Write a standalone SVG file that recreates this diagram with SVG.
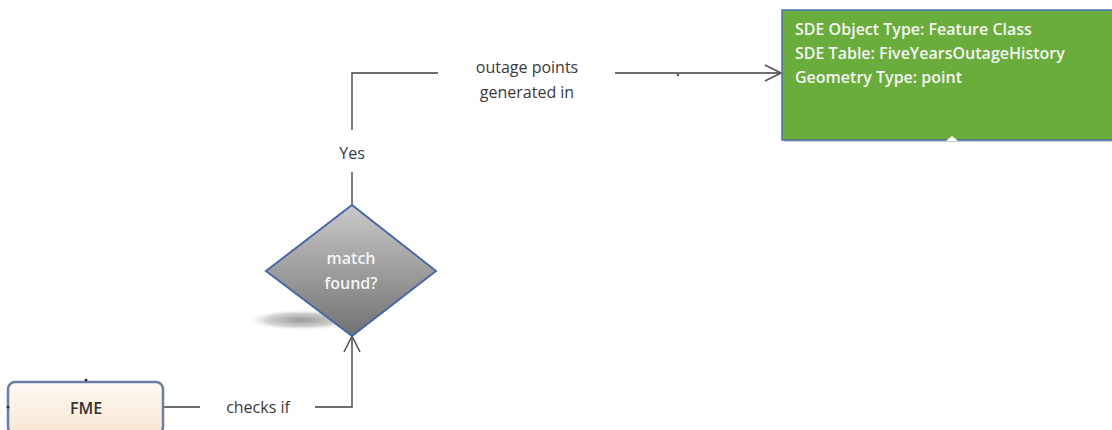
<svg xmlns="http://www.w3.org/2000/svg" width="1112" height="430" viewBox="0 0 1112 430">
<defs>
  <linearGradient id="diaGrad" x1="0" y1="0" x2="0" y2="1">
    <stop offset="0" stop-color="#c9c9c9"/>
    <stop offset="1" stop-color="#727272"/>
  </linearGradient>
  <linearGradient id="fmeGrad" x1="0" y1="0" x2="0" y2="1">
    <stop offset="0" stop-color="#fffaf3"/>
    <stop offset="1" stop-color="#f6e6d2"/>
  </linearGradient>
  <radialGradient id="shadowGrad" cx="0.5" cy="0.5" r="0.5">
    <stop offset="0" stop-color="#8a8a8a" stop-opacity="0.9"/>
    <stop offset="0.6" stop-color="#b0b0b0" stop-opacity="0.6"/>
    <stop offset="1" stop-color="#ffffff" stop-opacity="0"/>
  </radialGradient>
  <marker id="openArrow" viewBox="0 0 20 20" refX="18" refY="10" markerWidth="20" markerHeight="20" markerUnits="userSpaceOnUse" orient="auto">
    <path d="M2,2 L18,10 L2,18" fill="none" stroke="#555" stroke-width="1.6"/>
  </marker>
  <style>
    .conn { fill: none; stroke: #6e6e6e; stroke-width: 1.8; }
    .lbl { font-family: "Open Sans", "Liberation Sans", sans-serif; font-size: 16px; fill: #3a3a3a; text-anchor: middle; }
    .wtxt { font-family: "Open Sans", "Liberation Sans", sans-serif; font-size: 16px; font-weight: 600; fill: #f4f4f4; }
  </style>
</defs>
<rect width="1112" height="430" fill="#ffffff"/>

<g id="connectors">
  <path class="conn" d="M352,130 L352,73 L438,73"/>
  <path class="conn" d="M615,73 L781,73" marker-end="url(#openArrow)"/>
  <path class="conn" d="M352,172 L352,205"/>
  <path class="conn" d="M163,407 L200,407"/>
  <path class="conn" d="M315,407 L352,407 L352,336" marker-end="url(#openArrow)"/>
  <circle cx="678" cy="75" r="1.2" fill="#555"/>
  <text class="lbl" x="527" y="73">outage points</text>
  <text class="lbl" x="527" y="98">generated in</text>
  <text class="lbl" x="352" y="159">Yes</text>
  <text class="lbl" x="258" y="413">checks if</text>
</g>

<g id="node-decision">
  <ellipse cx="302" cy="320" rx="58" ry="11" fill="url(#shadowGrad)"/>
  <polygon points="352,205 436,271 352,336 266,271" fill="url(#diaGrad)" stroke="#4a68a8" stroke-width="2"/>
  <text class="wtxt" x="351" y="264" text-anchor="middle" font-weight="500">match</text>
  <text class="wtxt" x="351" y="289" text-anchor="middle" font-weight="500">found?</text>
</g>

<g id="node-sde">
  <rect x="784" y="12" width="330" height="130" fill="#9a9a9a" opacity="0.5"/>
  <rect x="782" y="10" width="332" height="130" fill="#6aad3c" stroke="#4a72b0" stroke-width="1.5"/>
  <polygon points="946,141 952,136 958,141" fill="#ffffff"/>
  <text class="wtxt" x="795" y="35">SDE Object Type: Feature Class</text>
  <text class="wtxt" x="795" y="59">SDE Table: FiveYearsOutageHistory</text>
  <text class="wtxt" x="795" y="83">Geometry Type: point</text>
</g>

<g id="node-fme">
  <rect x="8" y="382" width="155" height="52" rx="7" ry="7" fill="url(#fmeGrad)" stroke="#6a7da6" stroke-width="2.5"/>
  <circle cx="86" cy="380" r="1.5" fill="#333"/>
  <circle cx="8" cy="407" r="1.5" fill="#333"/>
  <text x="86" y="414" text-anchor="middle" font-family="Open Sans, Liberation Sans, sans-serif" font-size="16" font-weight="600" fill="#333">FME</text>
</g>
</svg>
